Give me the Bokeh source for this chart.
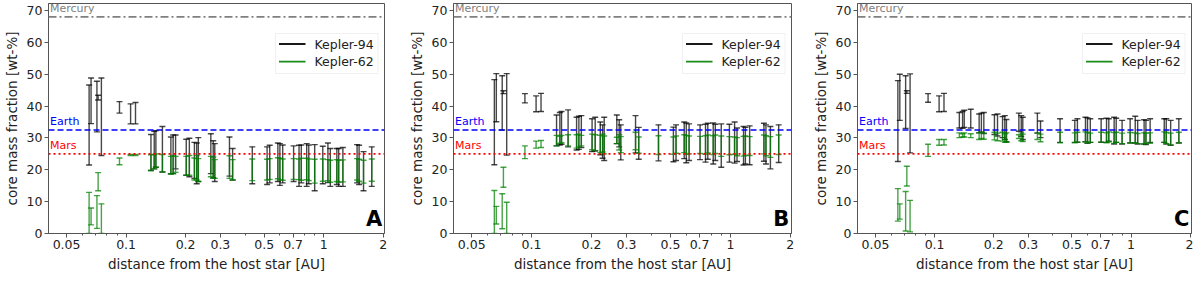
import math
from bokeh.plotting import figure
from bokeh.layouts import row
from bokeh.models import (Range1d, FixedTicker, Span, Label, BoxAnnotation,
                          ColumnDataSource, CustomJSTickFormatter)
from bokeh.embed import file_html
from bokeh.resources import INLINE

# ---------------- data ----------------
dist = [0.0650, 0.0665, 0.0712, 0.0722, 0.0750, 0.0926, 0.1054, 0.1116,
        0.1336, 0.1388, 0.1415, 0.1527, 0.1685, 0.1730, 0.1780, 0.2016,
        0.2090, 0.2217, 0.2277, 0.2320, 0.2684, 0.2760, 0.2810, 0.3335,
        0.3460, 0.4350, 0.5170, 0.5330, 0.5860, 0.6000, 0.6200, 0.7040,
        0.7500, 0.7700, 0.8200, 0.8400, 0.9000, 0.9890, 1.0500, 1.0800,
        1.1650, 1.1900, 1.2500, 1.4750, 1.5100, 1.5900, 1.7500]

# Panel A
k94_A_lo = [21.5, 34.5, 31.9, 41.9, 24.5, 37.8, 34.4, 34.4, 19.8, 20.3, 20.8, 19.3,
            18.8, 18.8, 20.3, 18.3, 17.8, 17.3, 15.6, 16.3, 18.8, 17.5, 16.3, 18.0,
            16.8, 15.6, 15.4, 15.9, 16.3, 15.1, 15.9, 16.3, 14.8, 15.9, 14.8, 15.6,
            13.4, 15.6, 16.0, 14.8, 15.4, 14.8, 14.8, 15.9, 15.4, 13.4, 14.8]
k94_A_hi = [46.6, 48.8, 47.8, 43.4, 48.8, 41.4, 40.7, 41.1, 31.1, 32.1, 32.3, 33.6,
            30.3, 30.9, 30.9, 29.6, 29.9, 28.6, 28.4, 30.1, 31.3, 29.1, 28.2, 30.3,
            26.7, 27.2, 27.2, 27.7, 28.4, 28.2, 27.8, 27.5, 27.7, 27.8, 28.2, 27.8,
            27.9, 27.4, 28.4, 26.7, 26.7, 26.7, 27.0, 27.9, 27.7, 25.7, 27.2]
k62_A_lo = [0.0, 2.7, 1.6, 13.4, 0.0, 21.6, 24.5, 24.5, 19.8, 20.3, 20.8, 19.3,
            18.6, 18.8, 19.2, 18.3, 18.3, 16.8, 16.8, 16.3, 17.8, 17.3, 17.3, 17.3,
            16.8, 16.6, 16.8, 17.0, 17.2, 16.8, 16.7, 17.0, 16.9, 16.7, 16.9, 16.6,
            15.8, 16.4, 16.6, 16.1, 16.3, 16.1, 16.2, 16.8, 16.4, 15.8, 16.4]
k62_A_hi = [12.9, 8.0, 11.9, 19.1, 9.3, 23.7, 24.8, 24.8, 24.7, 24.8, 25.0, 24.8,
            24.2, 24.5, 24.2, 24.2, 24.5, 23.7, 24.5, 23.5, 24.2, 24.0, 23.2, 24.4,
            23.2, 23.4, 23.3, 23.5, 23.8, 23.6, 23.4, 23.5, 23.4, 23.6, 23.6, 23.4,
            23.3, 23.4, 23.2, 23.0, 23.2, 23.0, 23.1, 23.5, 23.3, 23.0, 23.4]

# Panel B
k94_B_lo = [21.6, 35.1, 32.5, 43.9, 24.6, 41.0, 38.2, 38.3, 27.5, 27.8, 28.0, 27.2,
            26.2, 26.4, 27.0, 25.7, 25.9, 24.7, 23.6, 22.9, 28.2, 27.2, 23.1, 25.3,
            23.3, 22.8, 22.5, 22.9, 23.5, 22.2, 22.9, 23.2, 22.4, 23.3, 21.8, 22.9,
            20.8, 22.4, 22.1, 22.6, 21.5, 21.8, 21.6, 22.7, 21.8, 20.3, 22.3]
k94_B_hi = [48.3, 50.2, 49.5, 44.8, 50.2, 43.9, 43.2, 44.0, 37.2, 38.0, 38.3, 38.8,
            36.5, 36.8, 37.0, 36.0, 36.5, 35.0, 34.1, 36.5, 37.2, 35.7, 34.1, 37.0,
            33.3, 34.1, 33.4, 34.1, 35.0, 34.7, 34.4, 34.1, 34.3, 34.6, 34.7, 34.3,
            34.4, 34.3, 35.0, 33.1, 33.6, 33.3, 33.8, 34.6, 34.1, 33.6, 34.1]
k62_B_lo = [0.0, 3.0, 1.5, 14.5, 0.0, 23.5, 26.8, 27.0, 27.5, 28.3, 28.5, 27.5,
            26.8, 27.2, 27.5, 26.3, 26.0, 25.4, 25.6, 25.0, 28.2, 26.2, 25.4, 26.3,
            25.2, 24.8, 24.9, 25.2, 25.4, 24.9, 25.0, 25.1, 24.9, 25.3, 24.8, 25.1,
            24.2, 24.7, 24.9, 24.4, 24.3, 24.6, 24.5, 25.0, 24.4, 23.9, 24.8]
k62_B_hi = [13.5, 8.5, 12.5, 20.8, 9.8, 27.5, 29.0, 29.2, 30.8, 30.5, 30.8, 31.0,
            31.0, 31.2, 30.8, 31.2, 31.0, 30.8, 31.2, 30.6, 30.2, 31.0, 30.4, 31.8,
            30.3, 30.7, 30.3, 30.6, 31.0, 30.8, 30.6, 30.5, 30.7, 30.9, 30.7, 30.9,
            30.6, 30.4, 30.3, 30.1, 30.5, 30.6, 30.4, 30.9, 30.7, 30.4, 30.9]

# Panel C
k94_C_lo = [22.6, 35.5, 33.0, 44.0, 25.3, 41.2, 38.2, 38.3, 33.1, 33.0, 33.3, 33.1,
            31.6, 31.8, 31.4, 31.1, 30.6, 30.1, 29.5, 28.8, 32.1, 30.5, 29.5, 31.5,
            30.1, 28.6, 28.6, 28.6, 28.8, 28.3, 28.6, 28.6, 28.6, 29.0, 28.1, 28.6,
            28.1, 28.4, 28.4, 28.1, 28.1, 27.9, 28.6, 28.6, 28.1, 27.7, 28.4]
k94_C_hi = [48.0, 50.0, 49.5, 44.8, 50.1, 43.9, 43.2, 44.0, 38.0, 38.3, 38.7, 39.0,
            37.5, 37.8, 38.0, 37.3, 37.5, 36.7, 37.0, 35.8, 37.8, 37.0, 36.5, 37.8,
            35.3, 36.0, 35.5, 36.0, 36.5, 36.3, 36.0, 36.0, 36.2, 36.0, 36.5, 36.2,
            35.5, 36.0, 36.8, 35.5, 35.7, 35.5, 36.0, 36.0, 36.0, 35.5, 36.0]
k62_C_lo = [3.9, 4.5, 0.8, 14.9, 0.5, 24.2, 27.7, 27.8, 30.1, 30.3, 30.3, 30.1,
            29.5, 29.8, 29.6, 29.4, 29.1, 29.0, 28.6, 28.6, 29.8, 29.1, 28.9, 29.5,
            28.8, 28.5, 28.5, 28.7, 28.8, 28.4, 28.6, 28.7, 28.5, 28.8, 28.3, 28.6,
            28.2, 28.5, 28.4, 28.2, 28.1, 28.3, 28.3, 28.6, 28.2, 27.8, 28.5]
k62_C_hi = [14.1, 9.3, 13.2, 21.1, 10.4, 28.0, 29.5, 29.5, 31.6, 31.3, 31.6, 31.3,
            31.6, 31.8, 31.5, 31.8, 31.5, 31.8, 31.3, 31.6, 31.0, 31.6, 31.2, 31.6,
            31.2, 31.8, 31.6, 31.8, 31.9, 31.7, 31.5, 31.8, 31.6, 31.9, 31.7, 31.8,
            31.5, 31.7, 31.6, 31.4, 31.6, 31.5, 31.6, 31.9, 31.7, 31.5, 31.8]

ref_names = ["Mercury", "Earth", "Mars"]
ref_values = [68.0, 32.5, 25.0]

series_names = ["Kepler-94", "Kepler-62"]
panel_letters = ["A", "B", "C"]

x_tick_vals = [0.05, 0.1, 0.2, 0.3, 0.5, 0.7, 1, 2]
x_minor_vals = [0.06, 0.07, 0.08, 0.09, 0.4, 0.6, 0.8, 0.9]
y_tick_vals = [0, 10, 20, 30, 40, 50, 60, 70]

# ---------------- styling ----------------
FONT = "DejaVu Sans"
FH = 230
XMIN, XMAX = 0.0405, 2.03
YMIN, YMAX = 0.0, 72.2
ref_colors = ["#808080", "#0000ff", "#ff0000"]
ref_dash = ["8 3 2 3", "6 3", "2 3"]
ser_colors = ["#000000", "#008000"]
AX = "#555555"


def x_from_right(px, fw):
    l0, l1 = math.log10(XMIN), math.log10(XMAX)
    return 10 ** (l1 - px / fw * (l1 - l0))


def y_from_top(px):
    return YMAX - px / FH * (YMAX - YMIN)


def make_panel(letter, k94_lo, k94_hi, k62_lo, k62_hi, fw, bl, br):
    p = figure(x_axis_type="log", x_range=Range1d(XMIN, XMAX),
               y_range=Range1d(YMIN, YMAX), frame_width=fw, frame_height=FH,
               min_border_left=bl, min_border_right=br, min_border_top=3,
               min_border_bottom=0, output_backend="svg", toolbar_location=None)
    p.grid.visible = False
    p.outline_line_color = AX
    p.outline_line_width = 1
    p.background_fill_color = "white"
    p.border_fill_color = "white"

    for name, v, c, d in zip(ref_names, ref_values, ref_colors, ref_dash):
        p.add_layout(Span(location=v, dimension="width", line_color=c,
                          line_dash=d, line_width=1.6))
        p.add_layout(Label(x=0.0412, y=v + 0.6, text=name, text_color=c,
                           text_font=FONT, text_font_size="11px",
                           text_baseline="bottom", text_align="left"))

    for lo, hi, col in ((k94_lo, k94_hi, ser_colors[0]), (k62_lo, k62_hi, ser_colors[1])):
        src = ColumnDataSource(dict(x=dist, lo=lo, hi=hi))
        p.segment(x0="x", y0="lo", x1="x", y1="hi", source=src,
                  line_color=col, line_width=1.4, line_alpha=0.72)
        p.scatter(x="x", y="lo", source=src, marker="dash", size=6,
                  line_color=col, line_width=1.4, line_alpha=0.72)
        p.scatter(x="x", y="hi", source=src, marker="dash", size=6,
                  line_color=col, line_width=1.4, line_alpha=0.72)

    # legend box (upper right), drawn by hand
    p.add_layout(BoxAnnotation(left=x_from_right(109, fw), right=x_from_right(6.5, fw),
                               top=y_from_top(30), bottom=y_from_top(70),
                               fill_color="white", fill_alpha=1.0,
                               line_color="#cccccc", line_width=1,
                               level="underlay"))
    for i, (name, col) in enumerate(zip(series_names, ser_colors)):
        yy = y_from_top(40.5 + 17.7 * i)
        p.line([x_from_right(105.5, fw), x_from_right(79, fw)], [yy, yy],
               line_color=col, line_width=1.8, line_alpha=0.9)
        p.add_layout(Label(x=x_from_right(70, fw), y=yy, text=name,
                           text_font=FONT, text_font_size="12.5px",
                           text_baseline="middle", text_align="left",
                           text_color="#222222"))

    p.add_layout(Label(x=1.98, y=0.9, text=letter, text_font=FONT,
                       text_font_size="21px", text_font_style="bold",
                       text_align="right", text_baseline="bottom", text_color="black"))

    p.xaxis.ticker = FixedTicker(ticks=x_tick_vals, minor_ticks=x_minor_vals)
    p.xaxis.formatter = CustomJSTickFormatter(code="return String(tick)")
    p.yaxis.ticker = FixedTicker(ticks=y_tick_vals, minor_ticks=[])
    p.xaxis.axis_label = "distance from the host star [AU]"
    p.yaxis.axis_label = "core mass fraction [wt-%]"
    for ax in (p.xaxis[0], p.yaxis[0]):
        ax.axis_label_text_font = FONT
        ax.axis_label_text_font_size = "13.5px"
        ax.axis_label_text_font_style = "normal"
        ax.axis_label_text_color = "#222222"
        ax.major_label_text_font = FONT
        ax.major_label_text_font_size = "12.5px"
        ax.major_label_text_color = "#222222"
        ax.axis_line_color = AX
        ax.major_tick_line_color = AX
        ax.minor_tick_line_color = AX
        ax.major_tick_in = 0
        ax.major_tick_out = 4
        ax.minor_tick_in = 0
        ax.minor_tick_out = 2
        ax.major_label_standoff = 2
        ax.axis_label_standoff = 4
    return p


pA = make_panel(panel_letters[0], k94_A_lo, k94_A_hi, k62_A_lo, k62_A_hi, 336, 32, 21)
pB = make_panel(panel_letters[1], k94_B_lo, k94_B_hi, k62_B_lo, k62_B_hi, 338, 44, 8)
pC = make_panel(panel_letters[2], k94_C_lo, k94_C_hi, k62_C_lo, k62_C_hi, 334, 58, 2)

layout = row(pA, pB, pC)
open("out.html", "w").write(file_html(layout, INLINE))
